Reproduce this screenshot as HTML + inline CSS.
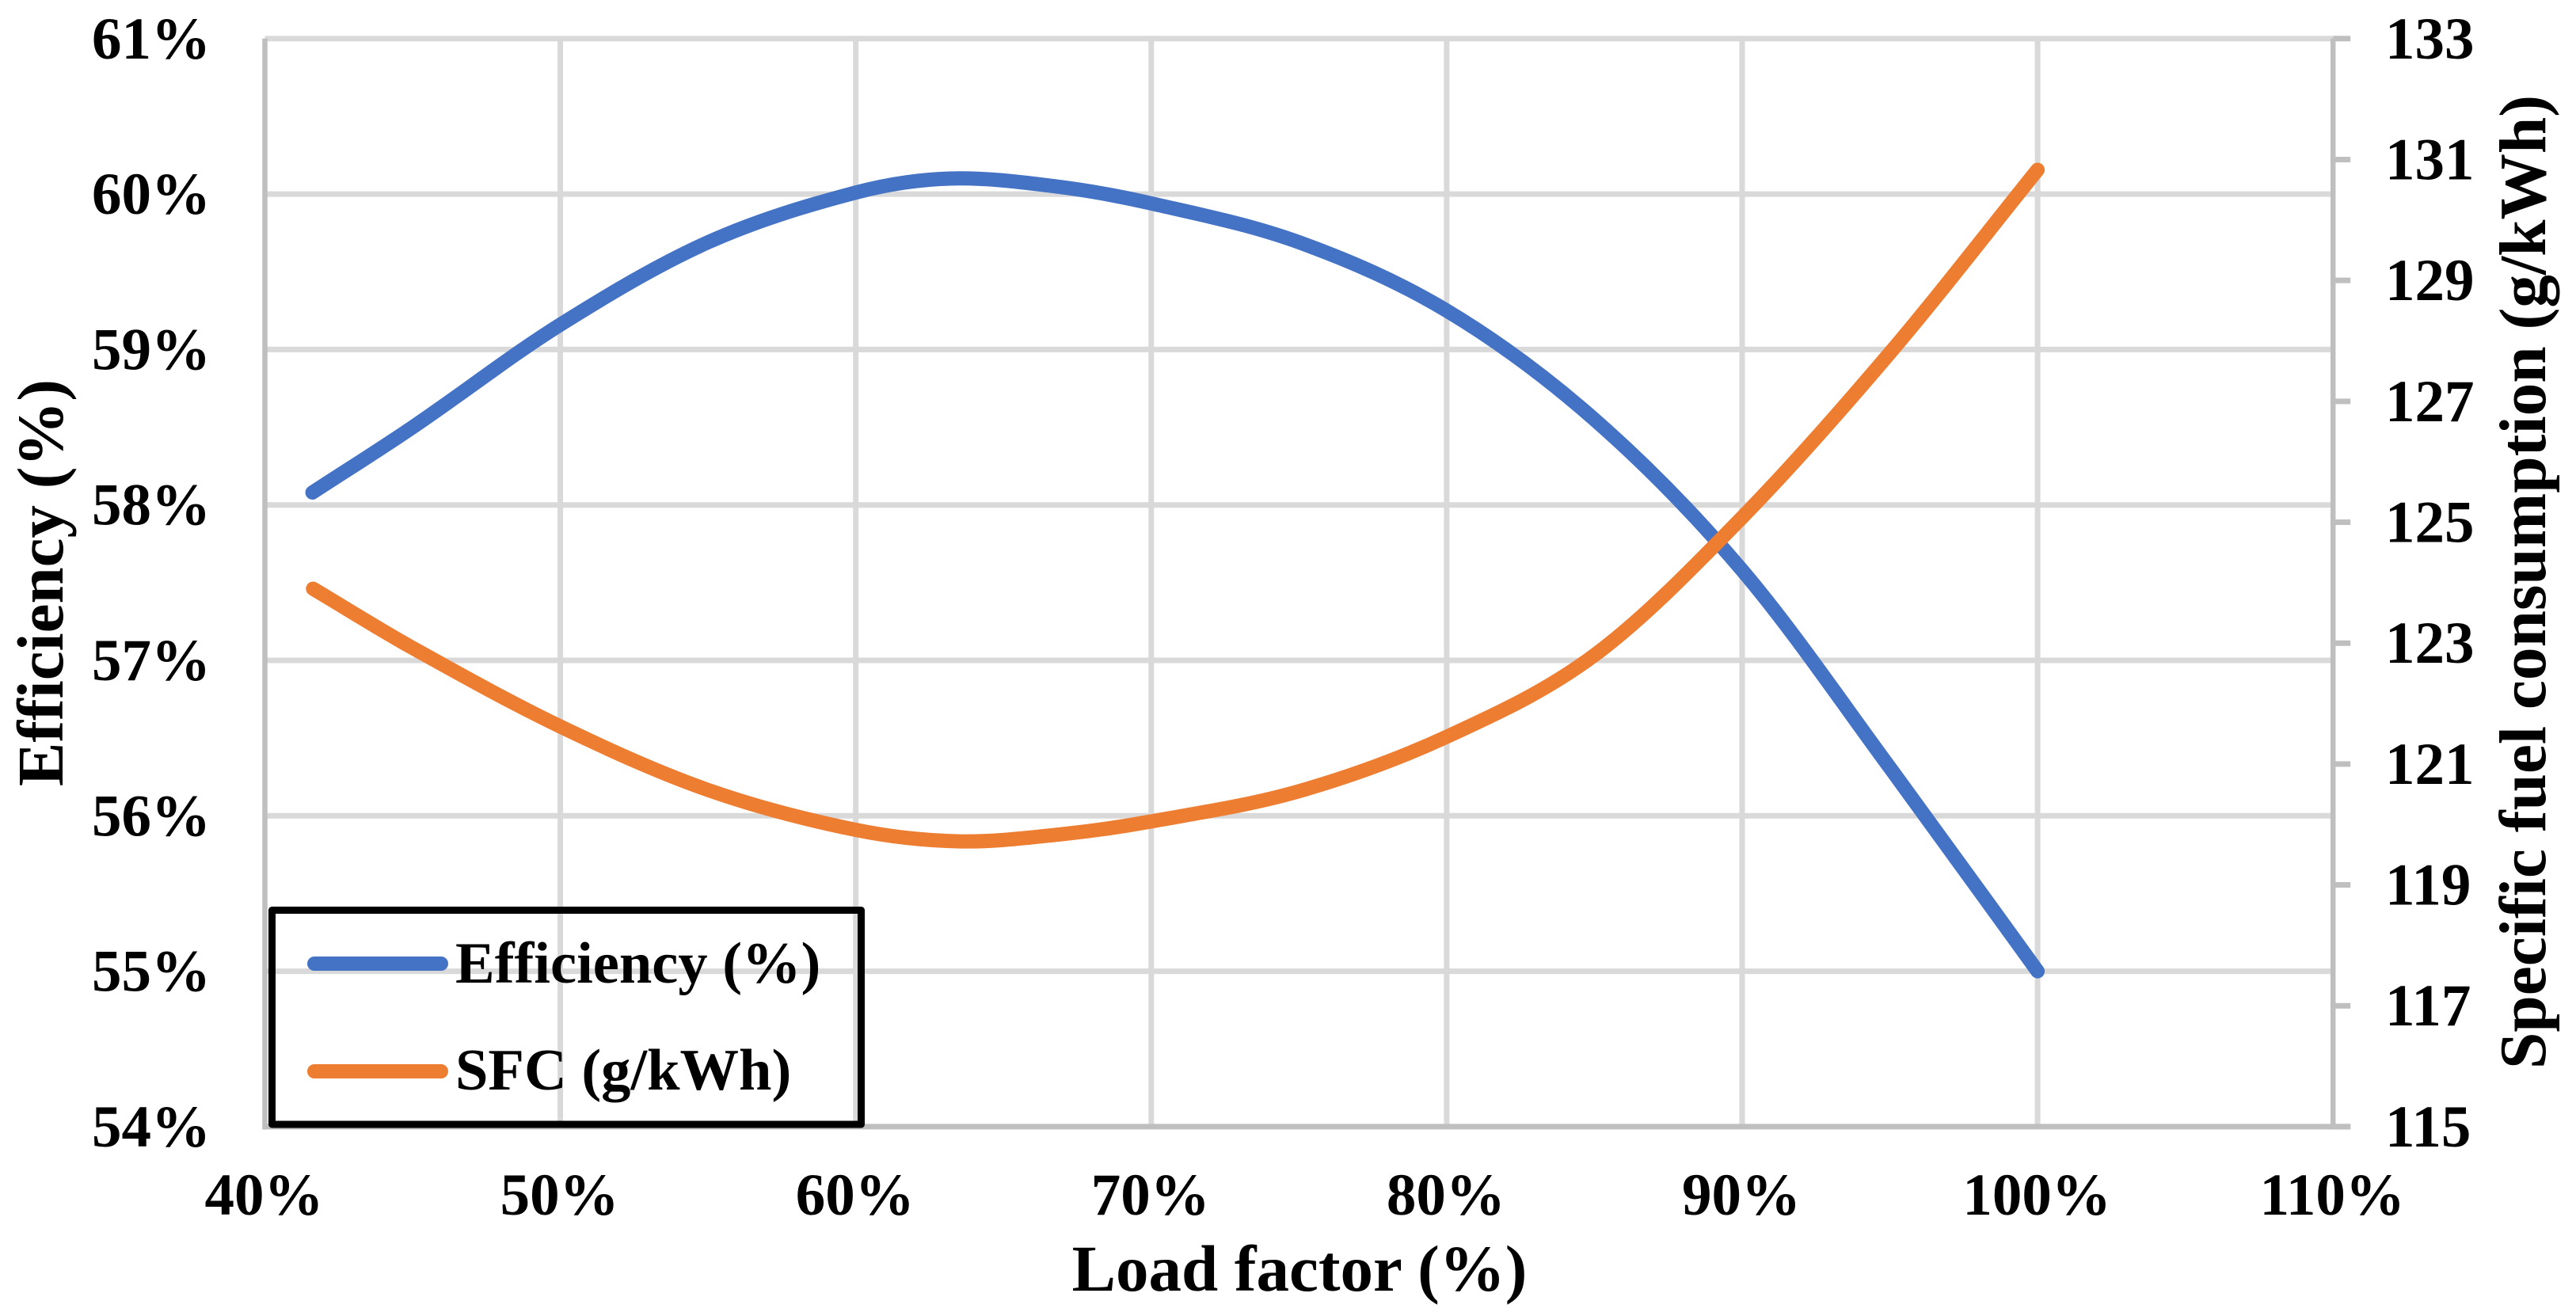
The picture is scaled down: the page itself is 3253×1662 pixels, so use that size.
<!DOCTYPE html>
<html lang="en">
<head>
<meta charset="utf-8">
<title>Efficiency and specific fuel consumption vs load factor</title>
<style>
html,body{margin:0;padding:0;background:#fff;}
svg{display:block;}
text{font-family:"Liberation Serif","Times New Roman",serif;font-weight:bold;fill:#000;}
</style>
</head>
<body>
<svg id="chart" xmlns="http://www.w3.org/2000/svg" width="3253" height="1662" viewBox="0 0 3253 1662">
  <rect x="0" y="0" width="3253" height="1662" fill="#ffffff"/>
  <g id="grid"></g>
  <g id="axes"></g>
  <g id="series"></g>
  <g id="ticks"></g>
  <text x="1641" y="1630" font-size="83" text-anchor="middle">Load factor (%)</text>
  <text transform="translate(79,736) rotate(-90)" font-size="83" text-anchor="middle">Efficiency (%)</text>
  <text transform="translate(3214,735) rotate(-90)" font-size="83.4" text-anchor="middle">Specific fuel consumption (g/kWh)</text>
  <g>
    <rect x="343.5" y="1149.5" width="744" height="270.5" fill="none" stroke="#000000" stroke-width="9" stroke-linejoin="round"/>
    <g>
      <line x1="397" y1="1217" x2="557" y2="1217" stroke="#4472C4" stroke-width="18" stroke-linecap="round"/>
      <text x="575" y="1241" font-size="74.5">Efficiency (%)</text>
    </g>
    <g>
      <line x1="397" y1="1353" x2="557" y2="1353" stroke="#ED7D31" stroke-width="18" stroke-linecap="round"/>
      <text x="575" y="1376" font-size="74.5">SFC (g/kWh)</text>
    </g>
  </g>
</svg>
<script>
const xTicks = [40, 50, 60, 70, 80, 90, 100, 110];
const effTicks = [54, 55, 56, 57, 58, 59, 60, 61];
const sfcTicks = [115, 117, 119, 121, 123, 125, 127, 129, 131, 133];

const effLoad = [41.61, 45, 50, 55, 60, 63.18, 66.75, 70, 75, 80, 85, 90, 95, 100];
const effValues = [58.08, 58.50, 59.16, 59.69, 60.01, 60.10, 60.05, 59.94, 59.69, 59.25, 58.55, 57.58, 56.31, 55.00];

const sfcLoad = [41.63, 45, 50, 55, 60, 63.53, 67, 70, 75, 80, 85, 90, 95, 100];
const sfcValues = [123.90, 122.92, 121.62, 120.57, 119.91, 119.72, 119.84, 120.05, 120.55, 121.45, 122.80, 125.08, 127.80, 130.83];

const NS = 'http://www.w3.org/2000/svg';
const PLOT = {left: 334.5, right: 2946.2, top: 48.8, bottom: 1422.9};
function xScale(v) { return PLOT.left + (v - 40) / 70 * (PLOT.right - PLOT.left); }
function yEff(v) { return PLOT.top + (61 - v) / 7 * (PLOT.bottom - PLOT.top); }
function ySfc(v) { return PLOT.top + (133 - v) / 18 * (PLOT.bottom - PLOT.top); }

function make(tag, attrs, parent) {
  const node = document.createElementNS(NS, tag);
  for (const k in attrs) node.setAttribute(k, attrs[k]);
  parent.appendChild(node);
  return node;
}

function smoothPath(xs, ys) {
  const n = xs.length;
  const m = xs.map(function (x, i) {
    const a = Math.max(i - 1, 0), b = Math.min(i + 1, n - 1);
    return (ys[b] - ys[a]) / (xs[b] - xs[a]);
  });
  let d = 'M' + xs[0].toFixed(2) + ' ' + ys[0].toFixed(2);
  for (let i = 0; i < n - 1; i++) {
    const h = (xs[i + 1] - xs[i]) / 3;
    d += ' C' + (xs[i] + h).toFixed(2) + ' ' + (ys[i] + m[i] * h).toFixed(2) + ' ' +
      (xs[i + 1] - h).toFixed(2) + ' ' + (ys[i + 1] - m[i + 1] * h).toFixed(2) + ' ' +
      xs[i + 1].toFixed(2) + ' ' + ys[i + 1].toFixed(2);
  }
  return d;
}

const gridG = document.getElementById('grid');
const axesG = document.getElementById('axes');
const seriesG = document.getElementById('series');
const ticksG = document.getElementById('ticks');

xTicks.forEach(function (t) {
  if (t === 40 || t === 110) return;
  const line = make('line', {x1: xScale(t), x2: xScale(t), y1: PLOT.top, y2: PLOT.bottom, stroke: '#D9D9D9', 'stroke-width': 7}, gridG);
  
  
});
effTicks.forEach(function (t) {
  if (t === 54) return;
  const line = make('line', {x1: PLOT.left, x2: PLOT.right, y1: yEff(t), y2: yEff(t), stroke: '#D9D9D9', 'stroke-width': 7}, gridG);
  
  
});

const leftAxis = make('line', {x1: PLOT.left, x2: PLOT.left, y1: PLOT.top, y2: PLOT.bottom + 3.5, stroke: '#BFBFBF', 'stroke-width': 6.5}, axesG);


const rightAxis = make('line', {x1: PLOT.right, x2: PLOT.right, y1: PLOT.top, y2: PLOT.bottom + 3.5, stroke: '#BFBFBF', 'stroke-width': 6.5}, axesG);


const bottomAxis = make('line', {x1: PLOT.left - 3, x2: PLOT.right + 22, y1: PLOT.bottom, y2: PLOT.bottom, stroke: '#BFBFBF', 'stroke-width': 7}, axesG);



sfcTicks.forEach(function (t) {
  const mark = make('line', {x1: PLOT.right, x2: PLOT.right + 22, y1: ySfc(t), y2: ySfc(t), stroke: '#BFBFBF', 'stroke-width': 7}, axesG);
  
  
  const label = make('text', {x: 3012, y: ySfc(t) + 25, 'font-size': 75}, ticksG);
  label.textContent = String(t);
  
  
});
effTicks.forEach(function (t) {
  const label = make('text', {x: 266, y: yEff(t) + 25, 'font-size': 75, 'text-anchor': 'end'}, ticksG);
  label.textContent = t + '%';
  
  
});
xTicks.forEach(function (t) {
  const label = make('text', {x: xScale(t) - 1, y: 1534, 'font-size': 75, 'text-anchor': 'middle'}, ticksG);
  label.textContent = t + '%';
  
  
});

const effLine = make('path', {
  d: smoothPath(effLoad.map(xScale), effValues.map(yEff)),
  fill: 'none', stroke: '#4472C4', 'stroke-width': 18, 'stroke-linecap': 'round', 'stroke-linejoin': 'round'
}, seriesG);



const sfcLine = make('path', {
  d: smoothPath(sfcLoad.map(xScale), sfcValues.map(ySfc)),
  fill: 'none', stroke: '#ED7D31', 'stroke-width': 18, 'stroke-linecap': 'round', 'stroke-linejoin': 'round'
}, seriesG);


</script>
</body>
</html>
